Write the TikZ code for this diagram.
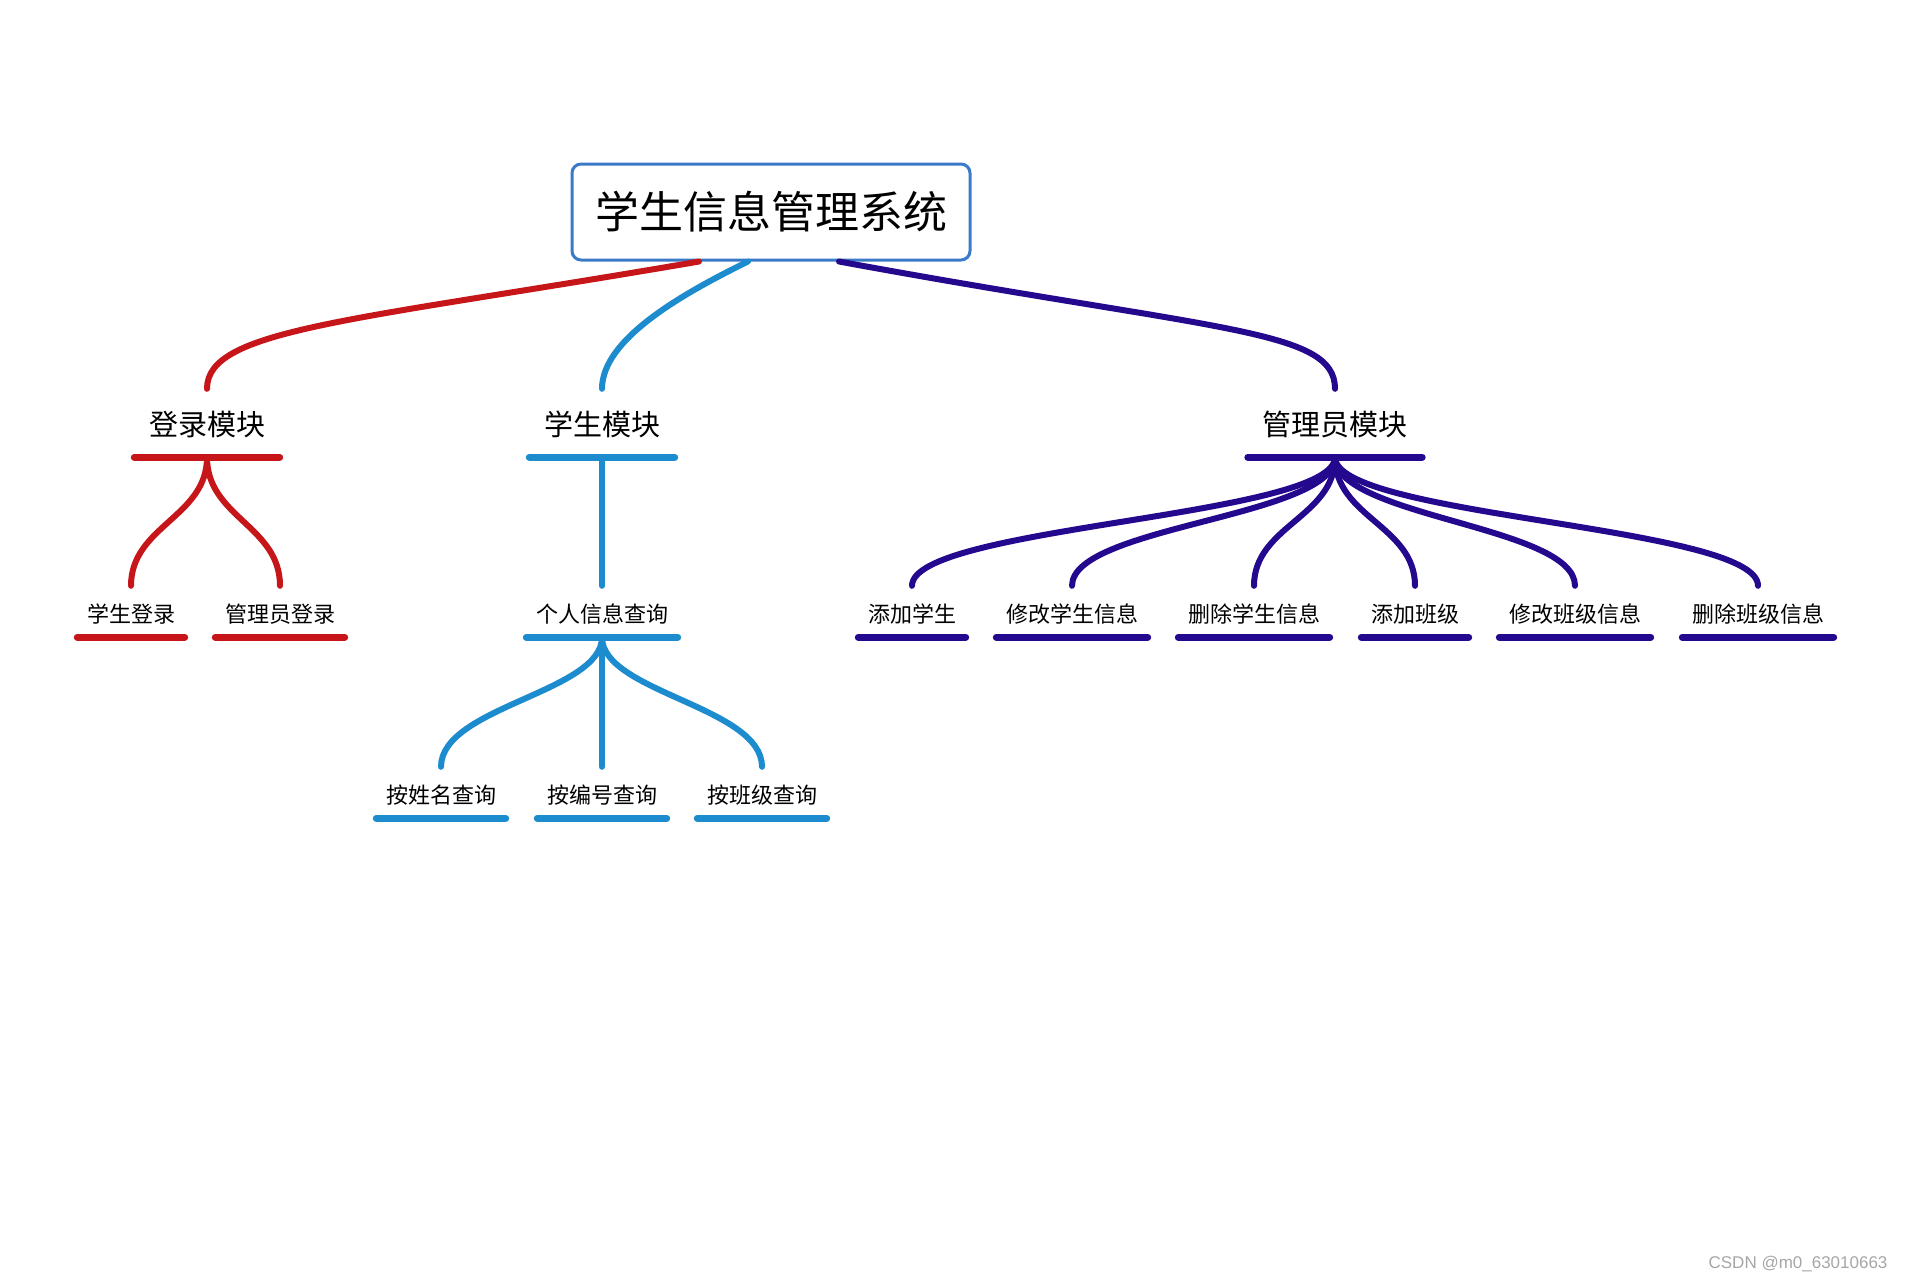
\documentclass[tikz,border=0pt]{standalone}
\usepackage{fontspec}
\setmainfont{Liberation Sans}
\newfontfamily\cjk{Noto Sans CJK SC}
\usetikzlibrary{calc,positioning}
\definecolor{loginred}{RGB}{198,22,26}
\definecolor{stublue}{RGB}{28,140,206}
\definecolor{adminpurple}{RGB}{36,8,142}
\definecolor{rootblue}{RGB}{58,122,200}
\tikzset{
  branch/.style={line width=6pt, line cap=round},
  uline/.style={line width=7pt, line cap=round},
  topicone/.style={font=\cjk\fontsize{29}{29}\selectfont, anchor=base, inner xsep=14.5pt, inner ysep=0pt, text height=46pt, text depth=22pt},
  topictwo/.style={font=\cjk\fontsize{22}{22}\selectfont, anchor=base, inner xsep=9.5pt, inner ysep=0pt, text height=36pt, text depth=15pt},
}
\begin{document}
\begin{tikzpicture}[x=1pt, y=-1pt,
  rootbox/.style={draw=rootblue, line width=3pt, rounded corners=9pt, fill=white, minimum width=398pt, minimum height=96pt, font=\cjk\fontsize{44}{44}\selectfont},
]
  \useasboundingbox (0,0) rectangle (1906,1280);
  \node[rootbox] (root) at (771,212) {学生信息管理系统};

  % first level
  \node[topicone] (login) at (207,435) {登录模块};
  \node[topicone] (student) at (602,435) {学生模块};
  \node[topicone] (admin) at (1335,435) {管理员模块};
  \draw[uline, loginred] (login.south west) -- (login.south east);
  \draw[uline, stublue] (student.south west) -- (student.south east);
  \draw[uline, adminpurple] (admin.south west) -- (admin.south east);
  \draw[branch, loginred] ([xshift=-72pt]root.south) .. controls +(-349,60) and +(0,-60) .. (login.north);
  \draw[branch, stublue] ([xshift=-23pt]root.south) .. controls +(-65,32) and +(0,-50) .. (student.north);
  \draw[branch, adminpurple] ([xshift=68pt]root.south) .. controls +(380,70) and +(0,-60) .. (admin.north);

  % login module
  \node[topictwo] (stulogin) at (131,622) {学生登录};
  \node[topictwo] (admlogin) at (280,622) {管理员登录};
  \foreach \nm in {stulogin,admlogin} {
    \draw[uline, loginred] (\nm.south west) -- (\nm.south east);
    \draw[branch, loginred] (login.south) .. controls +(0,60) and +(0,-60) .. (\nm.north);
  }

  % student module
  \node[topictwo] (query) at (602,622) {个人信息查询};
  \draw[uline, stublue] (query.south west) -- (query.south east);
  \draw[branch, stublue] (student.south) -- (query.north);
  \foreach \nm/\x/\txt in {byname/441/按姓名查询, bynum/602/按编号查询, byclass/762/按班级查询} {
    \node[topictwo] (\nm) at (\x,803) {\txt};
    \draw[uline, stublue] (\nm.south west) -- (\nm.south east);
    \draw[branch, stublue] (query.south) .. controls +(0,55) and +(0,-60) .. (\nm.north);
  }

  % admin module
  \foreach \nm/\x/\txt in {addstu/912/添加学生, editstu/1072/修改学生信息, delstu/1254/删除学生信息,
      addcls/1415/添加班级, editcls/1575/修改班级信息, delcls/1758/删除班级信息} {
    \node[topictwo] (\nm) at (\x,622) {\txt};
    \draw[uline, adminpurple] (\nm.south west) -- (\nm.south east);
    \draw[branch, adminpurple] (admin.south) .. controls +(0,60) and +(0,-60) .. (\nm.north);
  }

  \node[anchor=base east, text=gray!70, font=\fontsize{17}{17}\selectfont] (mark) at (1891,1268) {CSDN @m0\_63010663};
\end{tikzpicture}
\end{document}
